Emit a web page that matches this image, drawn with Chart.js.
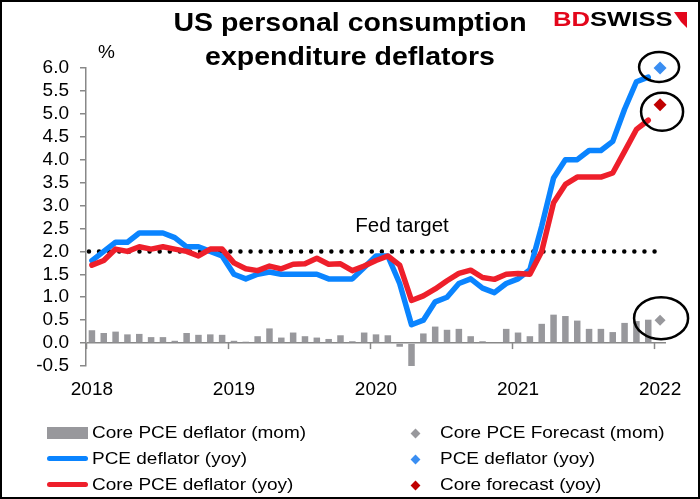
<!DOCTYPE html>
<html>
<head>
<meta charset="utf-8">
<script src="https://cdn.jsdelivr.net/npm/chart.js@4.4.0/dist/chart.umd.min.js"></script>
<style>
html, body { margin: 0; padding: 0; background: #fff; }
#wrap { position: relative; width: 700px; height: 499px; overflow: hidden; font-family: "Liberation Sans", Arial, sans-serif; }
#frame { position: absolute; left: 0; top: 0; width: 696px; height: 495px; border: 2px solid #000; pointer-events: none; }
#title { position: absolute; left: 100px; width: 500px; top: 5px; text-align: center; font-weight: bold; font-size: 25px; line-height: 34px; transform: scaleX(1.14); transform-origin: 250px 0; }
#pct { position: absolute; left: 98px; top: 41px; font-size: 19px; }
#logo { position: absolute; left: 553px; top: 7px; font-weight: bold; font-size: 21px; transform: scaleX(1.22); transform-origin: 0 0; white-space: nowrap; }
#logo .bd { color: #e3061b; }
#flag { position: absolute; left: 674px; top: 12px; width: 0; height: 0; border-left: 7px solid transparent; border-right: 6px solid #e3061b; border-top: 10px solid #e3061b; border-bottom: 6px solid transparent; }
.lg { position: absolute; font-size: 16.5px; line-height: 20px; white-space: nowrap; transform: scaleX(1.15); transform-origin: 0 0; }
.sw { position: absolute; }
</style>
</head>
<body>
<div id="wrap">
  <canvas id="pceChart" width="700" height="499"></canvas>
  <div id="title">US personal consumption<br>expenditure deflators</div>
  <div id="pct">%</div>
  <div id="logo"><span class="bd">BD</span>SWISS</div>
  <div id="flag"></div>
  <div id="legend"></div>
  <div id="frame"></div>
</div>
<script>
// monthly data, Jan 2018 .. Dec 2021
const years = ['2018', '2019', '2020', '2021', '2022'];

const pceYoy = [
    1.8, 2.0, 2.2, 2.2, 2.4, 2.4, 2.4, 2.3, 2.1, 2.1, 2.0, 1.9,
    1.5, 1.4, 1.5, 1.55, 1.5, 1.5, 1.5, 1.5, 1.4, 1.4, 1.4, 1.65,
    1.9, 1.9, 1.3, 0.4, 0.5, 0.9, 1.0, 1.3, 1.4, 1.2, 1.1, 1.3,
    1.4, 1.6, 2.55, 3.6, 4.0, 4.0, 4.2, 4.2, 4.4, 5.1, 5.7, 5.8
];

const coreYoy = [
    1.7, 1.8, 2.05, 2.0, 2.1, 2.05, 2.1, 2.05, 2.0, 1.9, 2.05, 2.05,
    1.75, 1.62, 1.58, 1.68, 1.62, 1.72, 1.73, 1.85, 1.72, 1.73, 1.58, 1.68,
    1.8, 1.9, 1.7, 0.93, 1.03, 1.18, 1.36, 1.52, 1.59, 1.43, 1.39, 1.5,
    1.52, 1.5, 2.0, 3.06, 3.46, 3.62, 3.62, 3.62, 3.71, 4.18, 4.66, 4.86
];

const coreMom = [
    0.28, 0.22, 0.25, 0.19, 0.2, 0.13, 0.13, 0.05, 0.22, 0.18, 0.19, 0.18,
    0.05, 0.03, 0.15, 0.32, 0.12, 0.23, 0.15, 0.12, 0.09, 0.17, 0.04, 0.23,
    0.19, 0.17, -0.08, -0.5, 0.21, 0.36, 0.29, 0.31, 0.15, 0.04, 0.0, 0.31,
    0.23, 0.15, 0.42, 0.62, 0.59, 0.49, 0.31, 0.31, 0.24, 0.44, 0.48, 0.51
];

// Jan 2022 forecasts
const forecastMonth = 48;
const coreMomForecast = 0.5;
const pceForecast = 6.0;
const coreForecast = 5.2;

const fedTarget = 2.0;
const fedRange = [0.25, 48.6];

const toPoints = arr => arr.map((v, i) => ({ x: i + 0.5, y: v }));
const fontFamily = '"Liberation Sans", Arial, sans-serif';

const colors = {
    bar: '#98989c',
    pce: '#0a84ff',
    core: '#ee1f2b',
    pceDiamond: '#3a8ef2',
    coreDiamond: '#c00000',
    axis: '#888'
};

// rings drawn round the forecast markers (dataset index, offset, radii)
const rings = [
    { ds: 4, dx: -1, dy: -1, rx: 20, ry: 15 },
    { ds: 5, dx: 2, dy: 7, rx: 21, ry: 19 },
    { ds: 6, dx: 1, dy: -2, rx: 27, ry: 21 }
];

const annotations = {
    id: 'annotations',
    beforeDatasetsDraw(chart) {
        // year tick marks hanging under the zero line
        const { ctx, scales: { x, y } } = chart;
        const y0 = y.getPixelForValue(0);
        ctx.save();
        ctx.strokeStyle = colors.axis;
        ctx.lineWidth = 1.5;
        years.forEach((_, k) => {
            const px = Math.round(x.getPixelForValue(k * 12)) + 0.5;
            ctx.beginPath();
            ctx.moveTo(px, y0);
            ctx.lineTo(px, y0 + 6);
            ctx.stroke();
        });
        ctx.restore();
    },
    afterDatasetsDraw(chart) {
        const { ctx, scales: { x, y } } = chart;
        ctx.save();
        ctx.font = '20.5px ' + fontFamily;
        ctx.fillStyle = '#000';
        ctx.textAlign = 'center';
        ctx.textBaseline = 'middle';
        ctx.fillText('Fed target', x.getPixelForValue(26.7), y.getPixelForValue(2.55));

        ctx.lineWidth = 2.5;
        ctx.strokeStyle = '#000';
        rings.forEach(r => {
            const pt = chart.getDatasetMeta(r.ds).data[0];
            ctx.beginPath();
            ctx.ellipse(pt.x + r.dx, pt.y + r.dy, r.rx, r.ry, 0, 0, Math.PI * 2);
            ctx.stroke();
        });
        ctx.restore();
    }
};

const ctx = document.getElementById('pceChart').getContext('2d');
const chart = new Chart(ctx, {
    data: {
        datasets: [
            {
                type: 'line', label: 'PCE deflator (yoy)', data: toPoints(pceYoy),
                borderColor: colors.pce, borderWidth: 5.5, pointRadius: 0,
                borderJoinStyle: 'round', borderCapStyle: 'round', order: 2, clip: false
            },
            {
                type: 'line', label: 'Core PCE deflator (yoy)', data: toPoints(coreYoy),
                borderColor: colors.core, borderWidth: 5.5, pointRadius: 0,
                borderJoinStyle: 'round', borderCapStyle: 'round', order: 1, clip: false
            },
            {
                type: 'line', label: 'Fed target',
                data: fedRange.map(v => ({ x: v, y: fedTarget })),
                borderColor: '#000', borderWidth: 4.5, borderDash: [0, 10.1],
                borderCapStyle: 'round', pointRadius: 0, order: 3
            },
            {
                type: 'bar', label: 'Core PCE deflator (mom)', data: toPoints(coreMom),
                backgroundColor: colors.bar, barPercentage: 0.55, categoryPercentage: 1, order: 10
            },
            {
                type: 'scatter', label: 'PCE deflator (yoy)',
                data: [{ x: forecastMonth + 0.5, y: pceForecast }],
                pointStyle: 'rectRot', pointRadius: 6.5, backgroundColor: colors.pceDiamond,
                borderWidth: 0, order: 0, clip: false
            },
            {
                type: 'scatter', label: 'Core forecast (yoy)',
                data: [{ x: forecastMonth + 0.5, y: coreForecast }],
                pointStyle: 'rectRot', pointRadius: 6.5, backgroundColor: colors.coreDiamond,
                borderWidth: 0, order: 0, clip: false
            },
            {
                type: 'scatter', label: 'Core PCE Forecast (mom)',
                data: [{ x: forecastMonth + 0.5, y: coreMomForecast }],
                pointStyle: 'rectRot', pointRadius: 5.5, backgroundColor: colors.bar,
                borderWidth: 0, order: 0, clip: false
            }
        ]
    },
    options: {
        responsive: false,
        animation: false,
        layout: { padding: { top: 68, right: 34, left: 0, bottom: 0 } },
        plugins: { legend: { display: false }, tooltip: { enabled: false } },
        scales: {
            x: {
                type: 'linear', position: 'bottom', min: 0, max: 49, offset: false,
                afterBuildTicks: s => { s.ticks = years.map((_, k) => ({ value: k * 12 + 0.5 })); },
                afterFit: s => { s.height = 133; },
                ticks: {
                    autoSkip: false, maxRotation: 0, padding: 12, color: '#000',
                    font: { family: fontFamily, size: 19 },
                    callback: v => years[Math.round((v - 0.5) / 12)]
                },
                grid: { display: false, drawTicks: false },
                border: { display: false }
            },
            y: {
                position: 'left', min: -0.5, max: 6,
                afterFit: s => { s.width = 86; },
                ticks: {
                    stepSize: 0.5, autoSkip: false, padding: 11, color: '#000',
                    font: { family: fontFamily, size: 19 },
                    callback: v => v.toFixed(1)
                },
                grid: {
                    drawOnChartArea: true, drawTicks: true, tickLength: 6, lineWidth: 1.5,
                    color: c => (c.tick && c.tick.value === 0 ? colors.axis : 'rgba(0,0,0,0)'),
                    tickColor: colors.axis
                },
                border: { color: colors.axis, width: 1.5 }
            }
        }
    },
    plugins: [annotations]
});

// two-column legend below the chart
const legendItems = [
    { ds: 3, kind: 'bar', left: 47, top: 433 },
    { ds: 0, kind: 'line', left: 47, top: 459 },
    { ds: 1, kind: 'line', left: 47, top: 485 },
    { ds: 6, kind: 'diamond', left: 415, top: 433 },
    { ds: 4, kind: 'diamond', left: 415, top: 459 },
    { ds: 5, kind: 'diamond', left: 415, top: 485 }
];

const legendBox = document.getElementById('legend');
legendItems.forEach(item => {
    const d = chart.data.datasets[item.ds];
    const sw = document.createElement('div');
    sw.className = 'sw';
    let textLeft;
    if (item.kind === 'bar') {
        Object.assign(sw.style, { left: item.left + 'px', top: (item.top - 6) + 'px', width: '41px', height: '12px', background: d.backgroundColor });
        textLeft = 92;
    } else if (item.kind === 'line') {
        Object.assign(sw.style, { left: item.left + 'px', top: (item.top - 3) + 'px', width: '41px', height: '5px', borderRadius: '3px', background: d.borderColor });
        textLeft = 92;
    } else {
        Object.assign(sw.style, { left: (item.left - 3.5) + 'px', top: (item.top - 3.5) + 'px', width: '7px', height: '7px', transform: 'rotate(45deg)', background: d.backgroundColor });
        textLeft = 440;
    }
    legendBox.appendChild(sw);
    const tx = document.createElement('div');
    tx.className = 'lg';
    tx.textContent = d.label;
    tx.style.left = textLeft + 'px';
    tx.style.top = (item.top - 11) + 'px';
    legendBox.appendChild(tx);
});
</script>
</body>
</html>
